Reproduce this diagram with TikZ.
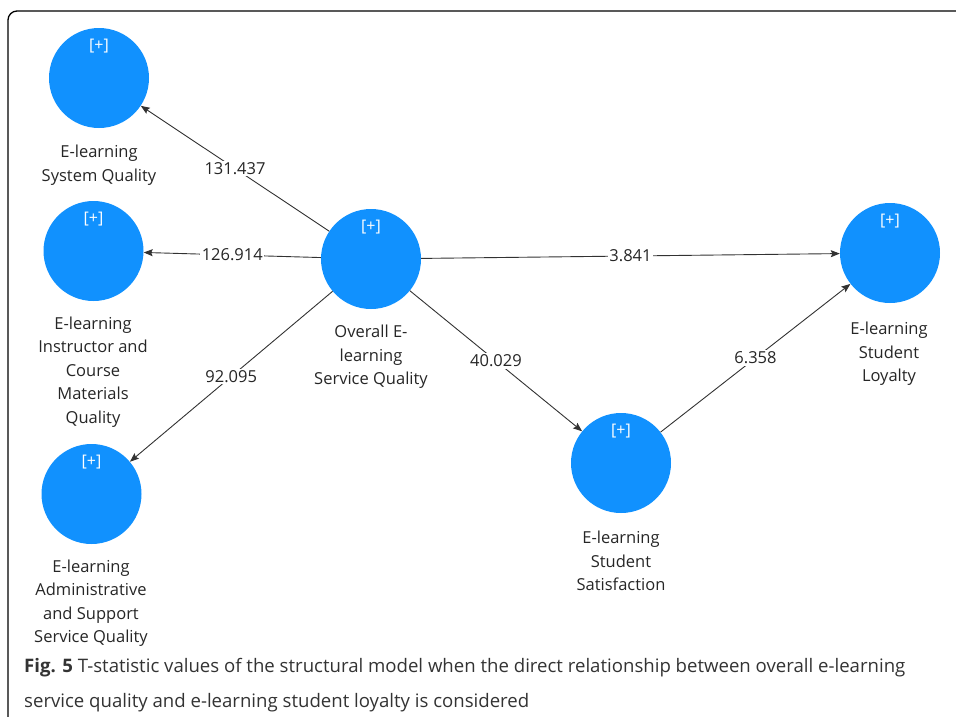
\documentclass[tikz,border=0pt]{standalone}
\usepackage{fontspec}
\setmainfont{Open Sans}
\usetikzlibrary{arrows.meta}
\definecolor{nodeblue}{RGB}{17,145,254}
\definecolor{edgegray}{RGB}{50,50,50}
\begin{document}
\begin{tikzpicture}[x=1pt,y=-1pt,
  lv/.style={circle,fill=nodeblue,minimum size=100pt,inner sep=0pt},
  plus/.style={text=white,font=\fontsize{16}{18}\selectfont,inner sep=0pt},
  lbl/.style={align=center,font=\fontsize{16.5}{23.5}\selectfont,inner sep=0pt,text=black!85},
  path/.style={draw=edgegray,line width=0.9pt,-{Stealth[length=9pt,width=7pt,inset=1.5pt]}},
  val/.style={fill=white,inner sep=1.5pt,font=\fontsize{16.5}{18}\selectfont,text=black!85}]
\useasboundingbox (0,0) rectangle (956,716);
\draw[line width=1.3pt,rounded corners=9pt] (8,760) -- (8,11) -- (1000,11);
% latent variables
\node[lv] (sys) at (99,78) {};
\node[lv] (ins) at (93.5,251) {};
\node[lv] (ovr) at (371,259) {};
\node[lv] (adm) at (91.5,494) {};
\node[lv] (loy) at (890,253) {};
\node[lv] (sat) at (621,463) {};
\foreach \n in {sys,ins,ovr,adm,loy,sat}{
  \node[plus] (\n-p) at ([yshift=32pt]\n.center) {[+]};
}
% labels
\node[lbl] (sys-l) at (99,165) {E-learning\\System Quality};
\node[lbl] (ins-l) at (93,372) {E-learning\\Instructor and\\Course\\Materials\\Quality};
\node[lbl] (ovr-l) at (371,357) {Overall E-\\learning\\Service Quality};
\node[lbl] (adm-l) at (91,603) {E-learning\\Administrative\\and Support\\Service Quality};
\node[lbl] (loy-l) at (889,354) {E-learning\\Student\\Loyalty};
\node[lbl] (sat-l) at (621,561) {E-learning\\Student\\Satisfaction};
% paths
\draw[path] (ovr) -- node[val] {131.437} (sys);
\draw[path] (ovr) -- node[val] {126.914} (ins);
\draw[path] (ovr) -- node[val] {3.841} (loy);
\draw[path] (ovr) -- node[val] {92.095} (adm);
\draw[path] (ovr) -- node[val] {40.029} (sat);
\draw[path] (sat) -- node[val] {6.358} (loy);
% caption
\node[anchor=west,align=left,inner sep=0pt,font=\fontsize{18.6}{35}\selectfont,text=black!80] (cap) at (24,685)
  {\textbf{Fig. 5} T-statistic values of the structural model when the direct relationship between overall e-learning\\service quality and e-learning student loyalty is considered};
\end{tikzpicture}
\end{document}
